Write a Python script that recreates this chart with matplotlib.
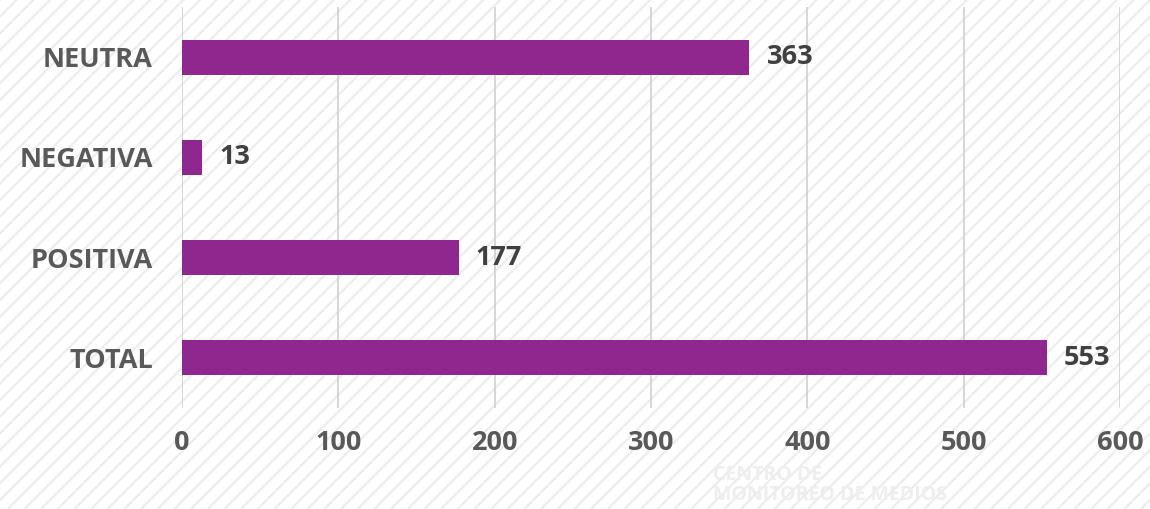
import matplotlib.pyplot as plt
from matplotlib.patches import Rectangle

categories = ['NEUTRA', 'NEGATIVA', 'POSITIVA', 'TOTAL']
values = [363, 13, 177, 553]
x_ticks = [0, 100, 200, 300, 400, 500, 600]

plt.rcParams['font.family'] = ['Open Sans', 'DejaVu Sans']
plt.rcParams['hatch.linewidth'] = 1.5

fig = plt.figure(figsize=(11.5, 5.09), dpi=100)
fig.patch.set_facecolor('white')

# hatched background like the original slide
bg = Rectangle((0, 0), 1, 1, transform=fig.transFigure, facecolor='white',
               edgecolor='#ececec', hatch='//', linewidth=0, zorder=-10)
fig.patches.append(bg)

# faint watermark text (kept below the tick labels)
fig.text(0.62, 0.066, 'CENTRO DE', ha='left', va='center', fontsize=14,
         color='#eeeeee', fontweight='bold', zorder=-5)
fig.text(0.62, 0.028, 'MONITOREO DE MEDIOS', ha='left', va='center',
         fontsize=14, color='#eeeeee', fontweight='bold', zorder=-5)

ax = fig.add_axes([0.1583, 0.1984, 0.8156, 0.7878])
ax.patch.set_alpha(0)

y = range(len(categories))
ax.barh(y, values, height=0.35, color='#8f278f', zorder=3)
for i, v in enumerate(values):
    ax.text(v + 11, i, str(v), va='center', ha='left', fontsize=19.5,
            fontweight='bold', color='#404040')

ax.set_xlim(0, 600)
ax.set_ylim(3.5, -0.5)
ax.set_xticks(x_ticks)
ax.set_yticks(list(y))
ax.set_yticklabels(categories)
ax.grid(axis='x', color='#d0d0d0', linewidth=1.2, zorder=0)
ax.tick_params(length=0, labelsize=19.5, labelcolor='#595959')
ax.tick_params(axis='x', pad=16)
ax.tick_params(axis='y', pad=21)
for lab in ax.get_xticklabels() + ax.get_yticklabels():
    lab.set_fontweight('bold')
for s in ax.spines.values():
    s.set_visible(False)

plt.savefig('out.png')
